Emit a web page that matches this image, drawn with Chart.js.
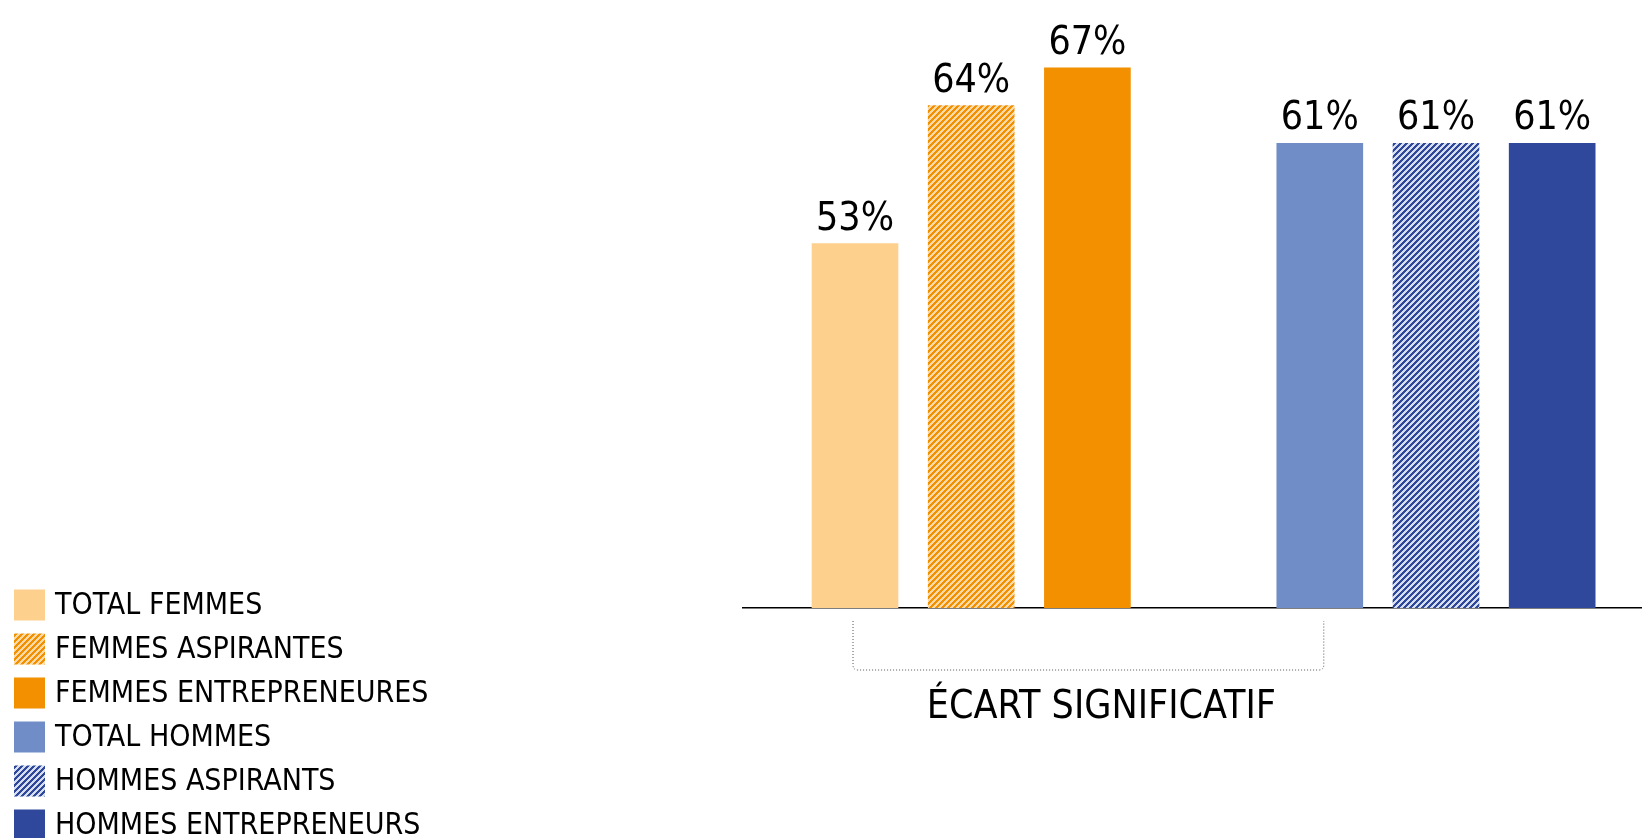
<!DOCTYPE html>
<html>
<head>
<meta charset="utf-8">
<script src="https://cdn.jsdelivr.net/npm/chart.js@4.4.1/dist/chart.umd.min.js"></script>
<style>
  html, body { margin: 0; padding: 0; background: #fff; }
  #wrap { width: 1642px; height: 838px; position: relative; }
</style>
</head>
<body>
<div id="wrap"><canvas id="ecartChart"></canvas></div>
<script>
// data
const series = ['TOTAL FEMMES', 'FEMMES ASPIRANTES', 'FEMMES ENTREPRENEURES',
                'TOTAL HOMMES', 'HOMMES ASPIRANTS', 'HOMMES ENTREPRENEURS'];
const slots = [1, 2, 3, 5, 6, 7];          // position on the x axis (gap between the two groups)
const values = [53, 64, 67, 61, 61, 61];   // %
const bracketLabel = 'ÉCART SIGNIFICATIF';

const FONT = "'DejaVu Sans Condensed', 'DejaVu Sans', sans-serif";

function hatch(fg, bg) {
    const c = document.createElement('canvas');
    c.width = 6; c.height = 6;
    const g = c.getContext('2d');
    g.fillStyle = bg;
    g.fillRect(0, 0, 6, 6);
    g.fillStyle = fg;
    for (let y = 0; y < 6; y++) {
        for (let x = 0; x < 6; x++) {
            if ((x + y) % 6 < 3) g.fillRect(x, y, 1, 1);
        }
    }
    return g.createPattern(c, 'repeat');
}

const colors = [
    '#fdd08d',
    hatch('#f29000', '#fdd9a6'),
    '#f29000',
    '#708dc8',
    hatch('#2f489c', '#d5ddf1'),
    '#2f489c'
];

// value labels above each bar
const valueLabels = {
    id: 'valueLabels',
    afterDatasetsDraw(chart) {
        const ctx = chart.ctx;
        const meta = chart.getDatasetMeta(0);
        ctx.save();
        ctx.font = '39px ' + FONT;
        ctx.fillStyle = '#000';
        ctx.textAlign = 'center';
        ctx.textBaseline = 'alphabetic';
        meta.data.forEach((bar, i) => {
            ctx.fillText(values[i] + '%', bar.x, bar.y - 14);
        });
        ctx.restore();
    }
};

// dotted bracket + caption under the axis (from bar 1 to bar 4)
const bracket = {
    id: 'bracket',
    afterDraw(chart) {
        const ctx = chart.ctx;
        const x = chart.scales.x;
        const bottom = chart.chartArea.bottom;
        const l = x.getPixelForValue(slots[0]) - 2, r = x.getPixelForValue(slots[3]) + 4;
        const t = bottom + 13, b = bottom + 62, rad = 5;
        ctx.save();
        ctx.strokeStyle = '#555';
        ctx.lineWidth = 1;
        ctx.setLineDash([1, 2]);
        ctx.beginPath();
        ctx.moveTo(l, t);
        ctx.lineTo(l, b - rad);
        ctx.quadraticCurveTo(l, b, l + rad, b);
        ctx.lineTo(r - rad, b);
        ctx.quadraticCurveTo(r, b, r, b - rad);
        ctx.lineTo(r, t);
        ctx.stroke();
        ctx.setLineDash([]);
        ctx.font = '39px ' + FONT;
        ctx.fillStyle = '#000';
        ctx.textAlign = 'center';
        ctx.textBaseline = 'alphabetic';
        ctx.fillText(bracketLabel, (l + r) / 2 + 13, bottom + 110);
        ctx.restore();
    }
};

// legend in the bottom left corner
const sideLegend = {
    id: 'sideLegend',
    afterDraw(chart) {
        const ctx = chart.ctx;
        ctx.save();
        ctx.font = '30px ' + FONT;
        ctx.textAlign = 'left';
        ctx.textBaseline = 'middle';
        series.forEach((name, i) => {
            const cy = 605 + i * 44;
            ctx.fillStyle = colors[i];
            ctx.fillRect(14, cy - 15.5, 31, 31);
            ctx.fillStyle = '#000';
            ctx.fillText(name, 55, cy + 1);
        });
        ctx.restore();
    }
};

const el = document.getElementById('ecartChart');

new Chart(el, {
    type: 'bar',
    data: {
        datasets: [{
            label: 'Écart',
            data: slots.map((s, i) => ({ x: s, y: values[i] })),
            backgroundColor: colors,
            barThickness: 86,
            borderWidth: 0
        }]
    },
    options: {
        responsive: true,
        maintainAspectRatio: false,
        animation: false,
        layout: { padding: { left: 743, right: 0, top: 0, bottom: 230 } },
        scales: {
            x: {
                type: 'linear',
                offset: false,
                min: 0.036,
                max: 7.773,
                ticks: { display: false },
                grid: { display: false, drawTicks: false },
                border: { display: true, color: '#000', width: 1.5 }
            },
            y: {
                display: false,
                min: 24,
                max: 72.4
            }
        },
        plugins: {
            legend: { display: false },
            tooltip: { enabled: false }
        }
    },
    plugins: [valueLabels, bracket, sideLegend]
});
</script>
</body>
</html>
